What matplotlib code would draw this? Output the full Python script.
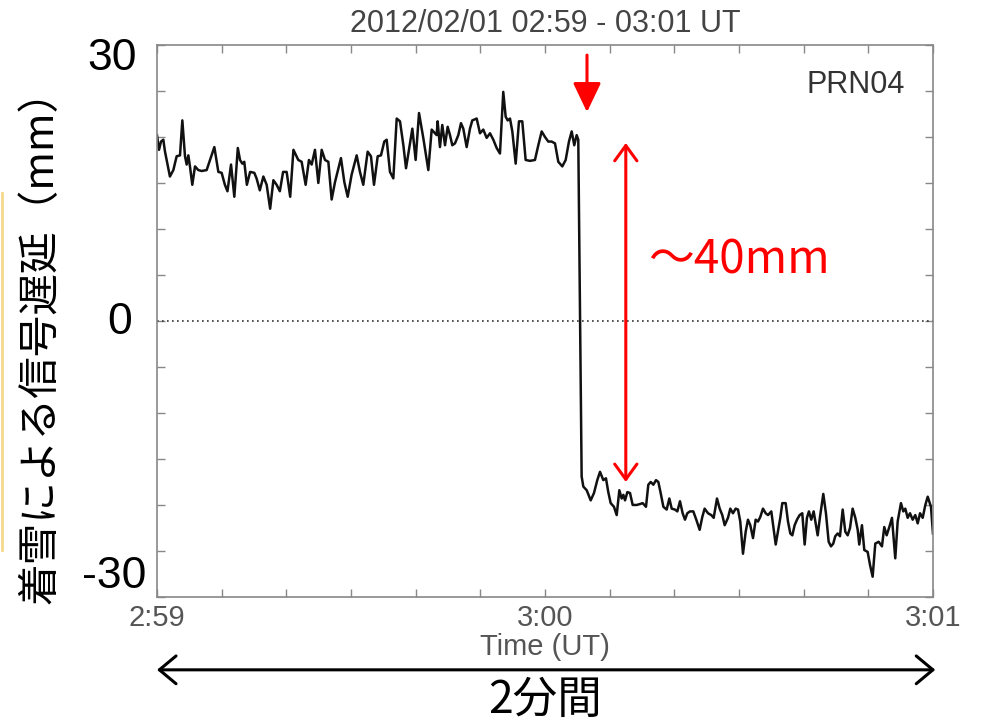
import numpy as np
import matplotlib
matplotlib.use("Agg")
import matplotlib.pyplot as plt
from matplotlib.lines import Line2D

# 2:59 からの経過秒と信号遅延 (mm)、着雪前
t_before = [0.0, 0.31, 0.62, 0.98, 1.24, 2.0, 2.53, 3.04, 3.56, 3.92, 4.33, 4.59, 4.85, 5.1, 5.46,
            5.88, 6.39, 6.91, 7.68, 8.2, 8.87, 9.49, 10.0, 10.5, 10.9, 11.45, 11.96, 12.5, 12.84,
            13.2, 13.5, 13.9, 14.4, 15.05, 15.4, 15.9, 16.45, 16.96, 17.5, 18.0, 18.5, 19.0, 19.5,
            20.05, 20.6, 21.1,
            21.85, 22.37, 22.99, 23.5, 23.92, 24.43, 24.95, 25.47, 25.98, 26.5, 27.01, 27.53, 28.45,
            28.97, 29.49, 30.1, 30.88, 31.39, 31.9, 32.58, 33.09, 33.56, 34.13, 34.64, 35.15, 35.52,
            36.03, 36.55, 37.07, 37.58, 38.1, 38.51, 39.02, 39.49, 40.0, 40.52, 41.18, 41.96, 42.48,
            43.25,
            43.4, 43.76, 44.12, 44.54, 44.95, 45.31, 45.67, 46.08, 46.6, 47.01, 47.37, 47.89, 48.4,
            48.76, 49.44, 49.95, 50.46, 50.98, 51.5, 52.01, 52.53, 53.04, 53.55, 53.92, 54.23, 54.59,
            54.95, 55.47, 55.98, 56.49, 57.01, 57.68, 58.45, 58.97, 59.49, 60.0, 60.51, 61.03, 61.55,
            62.06, 62.68, 63.2, 63.71, 64.13, 64.53, 64.9, 65.15]
delay_before = [20.2, 18.6, 19.5, 19.7, 18.4, 15.7, 16.4, 17.9, 18.0, 21.8, 17.9, 17.0, 18.0, 16.8,
                14.8, 16.8, 16.4, 16.3, 16.4, 17.5, 18.9, 16.2, 16.1, 14.8, 14.1, 17.0, 13.5, 18.8,
                17.5, 17.1, 17.3, 14.8, 16.2, 16.1, 15.5, 14.2, 15.7, 14.8, 12.2, 15.3, 14.8, 14.1,
                16.2, 16.2, 13.5, 18.6,
                17.5, 17.3, 14.8, 17.5, 17.0, 18.6, 15.0, 18.6, 17.5, 17.3, 13.2, 15.1, 17.7, 15.1,
                13.5, 15.9, 18.0, 16.2, 14.8, 18.4, 17.9, 14.8, 17.9, 18.0, 19.5, 19.7, 16.2, 15.5,
                22.0, 21.7, 19.1, 16.6, 18.8, 20.9, 17.5, 22.6, 19.9, 16.4, 20.8, 20.2,
                21.7, 18.9, 21.3, 19.1, 21.1, 20.2, 19.1, 19.3, 20.2, 21.5, 20.9, 18.9, 20.9, 21.8,
                22.0, 20.4, 20.8, 19.9, 20.4, 19.7, 18.8, 18.2, 24.9, 22.2, 21.8, 22.0, 20.6, 17.1,
                21.7, 21.7, 17.5, 17.4, 17.5, 19.1, 20.6, 20.0, 19.5, 19.5, 19.3, 17.3, 16.8, 17.5,
                19.5, 20.6, 19.1, 20.2, 19.7]

# 着雪後
t_after = [65.67, 65.93, 66.45, 67.07, 67.58, 68.09, 68.51, 69.02, 69.43, 69.79, 70.16, 70.67, 71.09,
           71.5, 71.86, 72.12, 72.38, 72.74, 73.15, 73.56, 74.18, 74.69, 75.11, 75.62, 75.98, 76.35,
           76.76, 77.17, 77.53, 77.89, 78.31, 78.82, 79.23, 79.6, 80.1, 80.47, 80.88, 81.29, 81.65,
           82.01, 82.42, 82.94,
           83.4, 83.92, 84.33, 84.69, 85.21, 85.72, 86.09, 86.6, 87.02, 87.42, 87.79, 88.3, 88.66,
           89.07, 89.49, 89.85, 90.2, 90.62, 91.04, 91.39, 91.75, 92.17, 92.58, 92.94, 93.3, 93.71,
           94.13, 94.49, 95.0, 95.37, 95.68, 96.03, 96.39, 96.7, 97.22, 97.58, 97.94, 98.25, 98.61,
           98.97, 99.38, 99.79, 100.16, 100.51, 100.82, 101.18, 101.55,
           102.17, 102.53, 103.04, 103.45, 103.87, 104.23, 104.58, 104.89, 105.26, 105.62, 106.04,
           106.44, 106.81, 107.17, 107.58, 107.99, 108.36, 108.6, 109.02, 109.38, 109.9, 110.26,
           110.67, 111.08, 111.6, 112.11, 112.47, 112.84, 113.25, 113.66, 114.17, 114.54, 115.05,
           115.41, 115.72, 116.09, 116.45, 116.86, 117.27, 117.64, 118.0, 118.41, 118.82, 119.19,
           119.69, 120.0]
delay_after = [-16.9, -18.0, -18.4, -19.5, -18.7, -17.3, -16.4, -17.3, -17.1, -18.6, -19.8, -20.2,
               -21.1, -18.4, -19.3, -18.9, -19.5, -18.6, -18.7, -20.0, -20.0, -19.9, -19.8, -20.2,
               -17.8, -17.5, -17.8, -17.3, -17.5, -18.7, -20.2, -20.5, -19.3, -20.4, -20.5, -20.7,
               -19.6, -20.9, -21.6, -20.9, -20.7, -20.7,
               -21.6, -22.7, -21.3, -20.4, -20.9, -21.1, -21.4, -19.3, -20.4, -21.1, -22.2, -21.4,
               -20.4, -20.9, -20.4, -20.5, -21.8, -25.3, -22.9, -21.6, -22.2, -23.6, -21.6, -21.8,
               -21.3, -20.4, -20.9, -21.1, -20.7, -22.7, -24.3, -22.9, -21.4, -19.8, -19.8, -21.8,
               -23.1, -23.3, -22.2, -21.6, -21.1, -20.9, -24.3, -21.4, -20.7, -21.6, -20.7,
               -23.3, -21.3, -18.8, -20.9, -24.0, -24.5, -24.2, -23.4, -23.1, -23.4, -20.5, -22.9,
               -23.3, -22.5, -20.4, -21.4, -22.7, -24.3, -22.2, -24.9, -25.1, -26.5, -27.8, -24.2,
               -24.0, -24.5, -22.4, -23.3, -22.4, -21.4, -25.8, -21.8, -19.8, -20.7, -20.4, -21.4,
               -20.9, -21.6, -21.1, -22.0, -20.9, -21.4, -20.0, -19.1, -20.2, -23.1]

tick_sec = [0, 60, 120]
tick_labels = ["2:59", "3:00", "3:01"]
title = "2012/02/01 02:59 - 03:01 UT"
jp = ["Noto Sans CJK JP", "DejaVu Sans"]

plt.rcParams["font.family"] = ["Liberation Sans", "DejaVu Sans"]

fig = plt.figure(figsize=(9.83, 7.25), dpi=100)
ax = fig.add_axes([0.1597, 0.1766, 0.7894, 0.7614])

t = np.concatenate([t_before, t_after])
d = np.concatenate([delay_before, delay_after])
ax.plot(t, d, color="#111111", lw=1.8, solid_joinstyle="round")
ax.axhline(0, color="#333333", ls=(0, (1, 2)), lw=1.2)

ax.set_xlim(0, 120)
ax.set_ylim(-30, 30)
ax.set_xticks(tick_sec)
ax.set_xticklabels(tick_labels)
ax.set_xticks(np.arange(0, 121, 10), minor=True)
ax.set_yticks(np.arange(-30, 31, 5))
ax.tick_params(axis="both", which="both", direction="in", length=6, width=1,
               color="#888888", top=True, right=True, labelleft=False)
ax.tick_params(axis="x", labelsize=21, labelcolor="#555555", pad=5)
for s in ax.spines.values():
    s.set_color("#888888")
    s.set_linewidth(1.2)

ax.set_xlabel("Time (UT)", fontsize=21, color="#555555", labelpad=1)
ax.set_title(title, fontsize=22, color="#444444", pad=9)

# 大きなY目盛り
ax.text(-3.1, 28.5, "30", fontsize=32, ha="right", va="center")
ax.text(-3.9, -0.2, "0", fontsize=32, ha="right", va="center")
ax.text(-1.6, -27.8, "-30", fontsize=32, ha="right", va="center")

ax.text(115.7, 25.6, "PRN04", fontsize=22, color="#333333", ha="right", va="center")

# 赤い矢印と注記
ax.annotate("", xy=(66.5, 22.7), xytext=(66.5, 28.9), annotation_clip=False,
            arrowprops=dict(arrowstyle="-|>,head_length=0.9,head_width=0.43",
                            mutation_scale=20, color="red", lw=2.2,
                            shrinkA=0, shrinkB=0))
ax.annotate("", xy=(72.5, 19.35), xytext=(72.5, -17.5),
            arrowprops=dict(arrowstyle="<->,head_length=0.55,head_width=0.4",
                            mutation_scale=20, color="red", lw=2.2,
                            shrinkA=0, shrinkB=0))
ax.text(75.9, 6.6, "～40mm", fontsize=33, color="red", ha="left", va="center", family=jp)

# 2分間の矢印
ax.annotate("", xy=(1.003, -0.132), xytext=(0.0, -0.132), xycoords="axes fraction",
            annotation_clip=False,
            arrowprops=dict(arrowstyle="<->,head_length=0.6,head_width=0.5",
                            mutation_scale=20, color="black", lw=2.2,
                            shrinkA=0, shrinkB=0))
fig.text(545 / 983, 1 - 700 / 725, "2分間", fontsize=32, ha="center", va="center", family=jp)

fig.text(41 / 983, 1 - 336 / 725, "着雪による信号遅延（mm）", fontsize=30, rotation=90,
         ha="center", va="center", family=jp)

fig.add_artist(Line2D([2 / 983, 2 / 983], [1 - 193 / 725, 1 - 550 / 725],
                      color="#f5d98b", lw=2, transform=fig.transFigure))

fig.savefig("out.png", dpi=100)
